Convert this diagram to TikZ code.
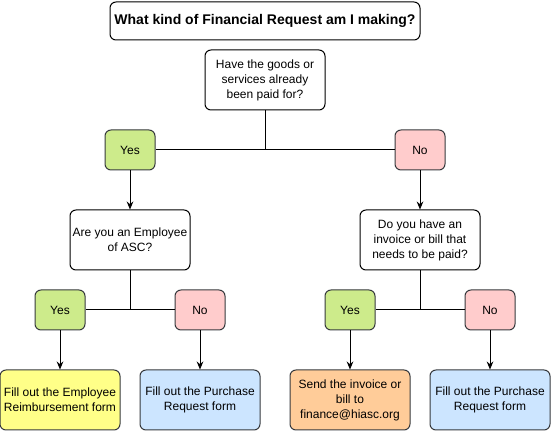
\documentclass[tikz,border=0pt]{standalone}
\usepackage{fontspec}
\setmainfont{Liberation Sans}
\usetikzlibrary{arrows.meta}
\definecolor{strokec}{HTML}{36393D}
\definecolor{yesc}{HTML}{CDEB8B}
\definecolor{noc}{HTML}{FFCCCC}
\definecolor{yelc}{HTML}{FFFF88}
\definecolor{bluec}{HTML}{CCE5FF}
\definecolor{orc}{HTML}{FFCC99}
\begin{document}
\begin{tikzpicture}[x=0.75pt,y=-0.75pt,
  box/.style={draw=black,rounded corners=6pt*0.75,line width=0.75pt,align=center,inner sep=0pt,
    font=\fontsize{9pt}{11.2pt}\selectfont},
  qbox/.style={box,fill=white,minimum width=90pt,minimum height=45pt},
  ybox/.style={box,draw=strokec,fill=yesc,minimum width=37.5pt,minimum height=30pt},
  nbox/.style={box,draw=strokec,fill=noc,minimum width=37.5pt,minimum height=30pt},
  rbox/.style={box,draw=strokec,minimum width=90pt,minimum height=45pt},
  conn/.style={line width=0.75pt},
  arr/.style={conn,-{Stealth[length=6pt,width=5pt]}}]
\useasboundingbox (0,0) rectangle (551,431);
\node[box,fill=white,minimum width=232.5pt,minimum height=28.5pt,font=\bfseries\fontsize{10.5pt}{13pt}\selectfont] (title) at (265,21) {What kind of Financial Request am I making?};
\node[qbox] (q1) at (265,80) {Have the goods or\\services already\\been paid for?};
\node[ybox] (y1) at (130,150) {Yes};
\node[nbox] (n1) at (420,150) {No};
\node[qbox] (q2) at (130,240) {Are you an Employee\\of ASC?};
\node[qbox] (q3) at (420,240) {Do you have an\\invoice or bill that\\needs to be paid?};
\node[ybox] (y2) at (60,310) {Yes};
\node[nbox] (n2) at (200,310) {No};
\node[ybox] (y3) at (350,310) {Yes};
\node[nbox] (n3) at (490,310) {No};
\node[rbox,fill=yelc] (ra) at (60,400) {Fill out the Employee\\Reimbursement form};
\node[rbox,fill=bluec] (rb) at (200,400) {Fill out the Purchase\\Request form};
\node[rbox,fill=orc] (rc) at (350,400) {Send the invoice or\\bill to\\finance@hiasc.org};
\node[rbox,fill=bluec] (rd) at (490,400) {Fill out the Purchase\\Request form};
\coordinate (j1) at (q1.south |- y1.east);
\coordinate (j2) at (q2.south |- y2.east);
\coordinate (j3) at (q3.south |- y3.east);
\draw[conn] (q1.south) -- (j1);
\draw[conn] (y1.east) -- (n1.west);
\draw[conn] (q2.south) -- (j2);
\draw[conn] (y2.east) -- (n2.west);
\draw[conn] (q3.south) -- (j3);
\draw[conn] (y3.east) -- (n3.west);
\draw[arr] (y1.south) -- (q2.north);
\draw[arr] (n1.south) -- (q3.north);
\draw[arr] (y2.south) -- (ra.north);
\draw[arr] (n2.south) -- (rb.north);
\draw[arr] (y3.south) -- (rc.north);
\draw[arr] (n3.south) -- (rd.north);
\end{tikzpicture}
\end{document}
